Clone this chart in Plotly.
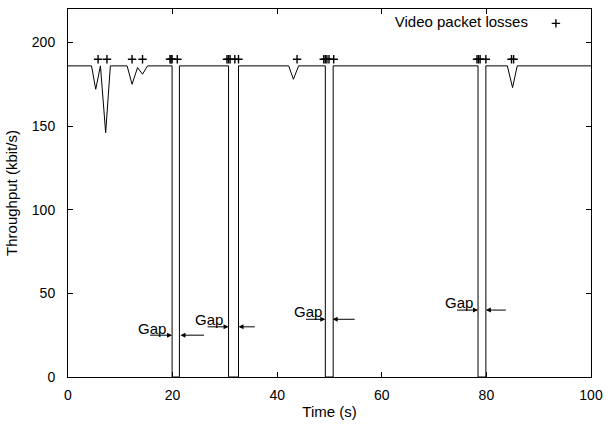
import plotly.graph_objects as go

# Throughput line (kbit/s) over time (s)
time_s = [0, 4.5, 5.3, 6.2, 7.2, 8.1, 11.3, 12.25, 13.3, 14.25, 15.2,
          19.9, 19.9, 21.3, 21.3, 30.7, 30.7, 32.6, 32.6,
          42.2, 43.1, 44.1, 49.2, 49.2, 50.7, 50.7,
          78.4, 78.4, 79.9, 79.9, 84.0, 85.0, 85.9, 100]
throughput = [186, 186, 172, 186, 146, 186, 186, 175, 185, 181, 186,
              186, 0, 0, 186, 186, 0, 0, 186,
              186, 178, 186, 186, 0, 0, 186,
              186, 0, 0, 186, 186, 173, 186, 186]

# Video packet losses
loss_t = [5.75, 7.45, 12.25, 14.25,
          19.5, 19.7, 19.9, 20.9,
          30.4, 30.7, 31.0, 31.9, 32.6,
          43.8,
          48.9, 49.2, 49.5, 49.9, 50.8,
          78.2, 78.5, 78.8, 79.9,
          84.8, 85.2]
loss_y = [190] * len(loss_t)

# Gap annotations: text position, arrow y, left arrow (from,to), right arrow (from,to)
gap_text_x = [16.0, 27.0, 45.9, 74.7]
gap_text_y = [29.0, 34.5, 38.9, 44.8]
gap_arrow_y = [25, 30, 34.5, 40]
gap_left_from = [15.4, 26.4, 45.2, 74.1]
gap_left_to = [19.9, 30.7, 49.2, 78.4]
gap_right_from = [26.3, 36.0, 55.1, 84.0]
gap_right_to = [21.5, 32.6, 50.6, 79.9]

x_ticks = [0, 20, 40, 60, 80, 100]
y_ticks = [0, 50, 100, 150, 200]

FONT = "Liberation Sans, Arial, sans-serif"

fig = go.Figure()
fig.add_trace(go.Scatter(x=time_s, y=throughput, mode="lines",
                         line=dict(color="black", width=1),
                         showlegend=False, hoverinfo="skip"))
fig.add_trace(go.Scatter(x=loss_t, y=loss_y, mode="markers", name=" ",
                         marker=dict(symbol="cross-thin", size=6,
                                     line=dict(color="black", width=1.4)),
                         showlegend=True))

for i in range(len(gap_text_x)):
    fig.add_annotation(x=gap_text_x[i], y=gap_text_y[i], text="Gap",
                       showarrow=False, xref="x", yref="y",
                       font=dict(size=15, color="black", family=FONT))
    for (fx, tx) in [(gap_left_from[i], gap_left_to[i]),
                     (gap_right_from[i], gap_right_to[i])]:
        fig.add_annotation(x=tx, y=gap_arrow_y[i], ax=fx, ay=gap_arrow_y[i],
                           xref="x", yref="y", axref="x", ayref="y",
                           text="", showarrow=True, arrowhead=2,
                           arrowsize=1, arrowwidth=1, arrowcolor="black")

axis_common = dict(showline=True, linecolor="black", linewidth=1,
                   mirror="ticks", ticks="inside", ticklen=5,
                   tickcolor="black", showgrid=False, zeroline=False,
                   tickfont=dict(size=14, color="black", family=FONT))

fig.update_layout(
    width=610, height=425,
    margin=dict(l=68, r=13, t=7, b=48),
    plot_bgcolor="white", paper_bgcolor="white",
    font=dict(family=FONT, size=15, color="black"),
    xaxis=dict(range=[0, 100], tickvals=x_ticks, ticklabelstandoff=5,
               title=dict(text="Time (s)", font=dict(size=15), standoff=4),
               **axis_common),
    yaxis=dict(range=[0, 220], tickvals=y_ticks, ticklabelstandoff=9,
               title=dict(text="Throughput (kbit/s)", font=dict(size=15), standoff=10),
               **axis_common),
    legend=dict(title=dict(text="Video packet losses", side="left",
                           font=dict(size=15)),
                x=0.99, y=1.005, xanchor="right", yanchor="top",
                bgcolor="rgba(0,0,0,0)", font=dict(size=15)),
)

fig.write_html("out.html")
